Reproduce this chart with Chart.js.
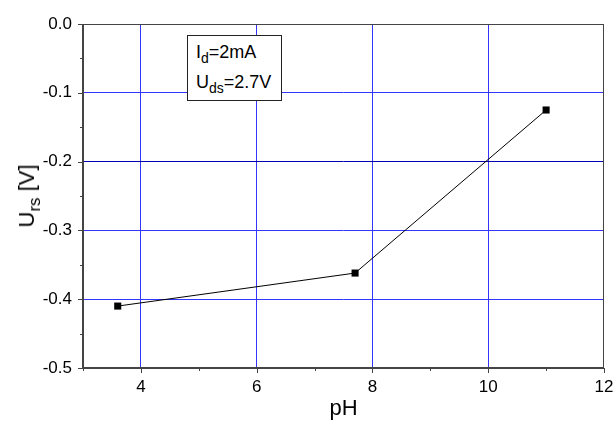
<!DOCTYPE html>
<html lang="en">
<head>
    <meta charset="UTF-8">
    <title>Urs vs pH</title>
    <script src="https://cdn.jsdelivr.net/npm/chart.js"></script>
    <style>
        html, body { margin: 0; padding: 0; background: #fff; }
        body { font-family: "Liberation Sans", Arial, sans-serif; }
        .wrap { position: relative; width: 615px; height: 428px; }
        #chart { display: block; }
        .note {
            position: absolute; left: 187px; top: 35px; width: 93px; height: 64px;
            border: 1px solid #222; background: #fff; font-size: 18px; color: #000;
            box-sizing: content-box;
        }
        .note div { position: absolute; left: 8px; line-height: 20px; white-space: nowrap; }
        .note sub { font-size: 14px; vertical-align: -5px; line-height: 0; }
        .ytitle {
            position: absolute; left: 27px; top: 196px; font-size: 22px; color: #000;
            transform: translate(-50%, -50%) rotate(-90deg); white-space: nowrap;
        }
        .ytitle sub { font-size: 17px; vertical-align: -6px; line-height: 0; }
    </style>
</head>
<body>
    <div class="wrap">
        <canvas id="chart" width="615" height="428"></canvas>
        <div class="note">
            <div style="top:6px">I<sub>d</sub>=2mA</div>
            <div style="top:36px">U<sub>ds</sub>=2.7V</div>
        </div>
        <div class="ytitle">U<sub>rs</sub> [V]</div>
    </div>

    <script>
        // measured points
        const phValues = [3.6, 7.7, 11.0];
        const ursValues = [-0.41, -0.362, -0.125];

        // axis ticks
        const xMajorTicks = [4, 6, 8, 10, 12];
        const xMinorTicks = [3, 5, 7, 9, 11];
        const yMajorTicks = [0, -0.1, -0.2, -0.3, -0.4, -0.5];
        const yMinorTicks = [-0.05, -0.15, -0.25, -0.35, -0.45];

        const isMajor = (list, v) => list.some(t => Math.abs(t - v) < 1e-9);

        function setTicks(major, minor) {
            return scale => {
                scale.ticks = major.concat(minor).sort((a, b) => a - b).map(v => ({ value: v }));
            };
        }

        // frame + tick marks (major long, minor short, pointing outward)
        const frameAndTicks = {
            id: 'frameAndTicks',
            afterDraw(chart) {
                const { ctx, chartArea: a, scales } = chart;
                ctx.save();
                ctx.strokeStyle = '#444';
                ctx.lineWidth = 1;
                ctx.strokeRect(a.left + 0.5, a.top + 0.5, a.right - a.left - 1, a.bottom - a.top);
                ctx.lineWidth = 2;
                ctx.beginPath();
                ctx.moveTo(a.left, a.top);
                ctx.lineTo(a.left, a.bottom);
                ctx.lineTo(a.right, a.bottom);
                ctx.stroke();
                ctx.lineWidth = 1;
                ctx.beginPath();
                scales.x.ticks.forEach(t => {
                    const px = Math.round(scales.x.getPixelForValue(t.value)) + 0.5;
                    const len = isMajor(xMajorTicks, t.value) ? 5 : 3;
                    ctx.moveTo(px, a.bottom);
                    ctx.lineTo(px, a.bottom + len);
                });
                scales.y.ticks.forEach(t => {
                    const py = Math.round(scales.y.getPixelForValue(t.value)) + 0.5;
                    const len = isMajor(yMajorTicks, t.value) ? 5 : 3;
                    ctx.moveTo(a.left, py);
                    ctx.lineTo(a.left - len, py);
                });
                ctx.stroke();
                ctx.restore();
            }
        };

        const tickFont = { family: '"Liberation Sans", Arial, sans-serif', size: 17 };

        new Chart(document.getElementById('chart'), {
            type: 'line',
            data: {
                datasets: [{
                    data: phValues.map((x, i) => ({ x: x, y: ursValues[i] })),
                    borderColor: '#000',
                    borderWidth: 1,
                    backgroundColor: '#000',
                    pointStyle: 'rect',
                    pointRadius: 5,
                    pointBorderWidth: 0,
                    tension: 0
                }]
            },
            options: {
                responsive: false,
                animation: false,
                layout: { padding: { top: 24, right: 11, left: 0, bottom: 0 } },
                plugins: { legend: { display: false }, tooltip: { enabled: false } },
                scales: {
                    x: {
                        type: 'linear',
                        min: 3,
                        max: 12,
                        afterBuildTicks: setTicks(xMajorTicks, xMinorTicks),
                        afterFit: s => { s.height = 60; s.paddingLeft = 0; s.paddingRight = 0; },
                        border: { display: false },
                        grid: {
                            drawTicks: false,
                            color: c => (isMajor(xMajorTicks, c.tick.value) && c.tick.value !== 12) ? '#3434ff' : 'rgba(0,0,0,0)',
                            lineWidth: 1
                        },
                        ticks: {
                            padding: 9,
                            color: '#000',
                            font: tickFont,
                            maxRotation: 0,
                            autoSkip: false,
                            callback: v => isMajor(xMajorTicks, v) ? String(v) : ''
                        },
                        title: {
                            display: true,
                            text: 'pH',
                            color: '#000',
                            font: { family: '"Liberation Sans", Arial, sans-serif', size: 22 },
                            padding: { top: 0, bottom: 6 }
                        }
                    },
                    y: {
                        type: 'linear',
                        min: -0.5,
                        max: 0,
                        afterBuildTicks: setTicks(yMajorTicks, yMinorTicks),
                        afterFit: s => { s.width = 83; s.paddingTop = 0; s.paddingBottom = 0; },
                        border: { display: false },
                        grid: {
                            drawTicks: false,
                            color: c => {
                                const v = c.tick.value;
                                if (!isMajor(yMajorTicks, v) || v === 0 || v === -0.5) return 'rgba(0,0,0,0)';
                                return Math.abs(v + 0.2) < 1e-9 ? '#0000b0' : '#3434ff';
                            },
                            lineWidth: 1
                        },
                        ticks: {
                            padding: 11,
                            color: '#000',
                            font: tickFont,
                            autoSkip: false,
                            callback: v => isMajor(yMajorTicks, v) ? v.toFixed(1) : ''
                        }
                    }
                }
            },
            plugins: [frameAndTicks]
        });
    </script>
</body>
</html>
